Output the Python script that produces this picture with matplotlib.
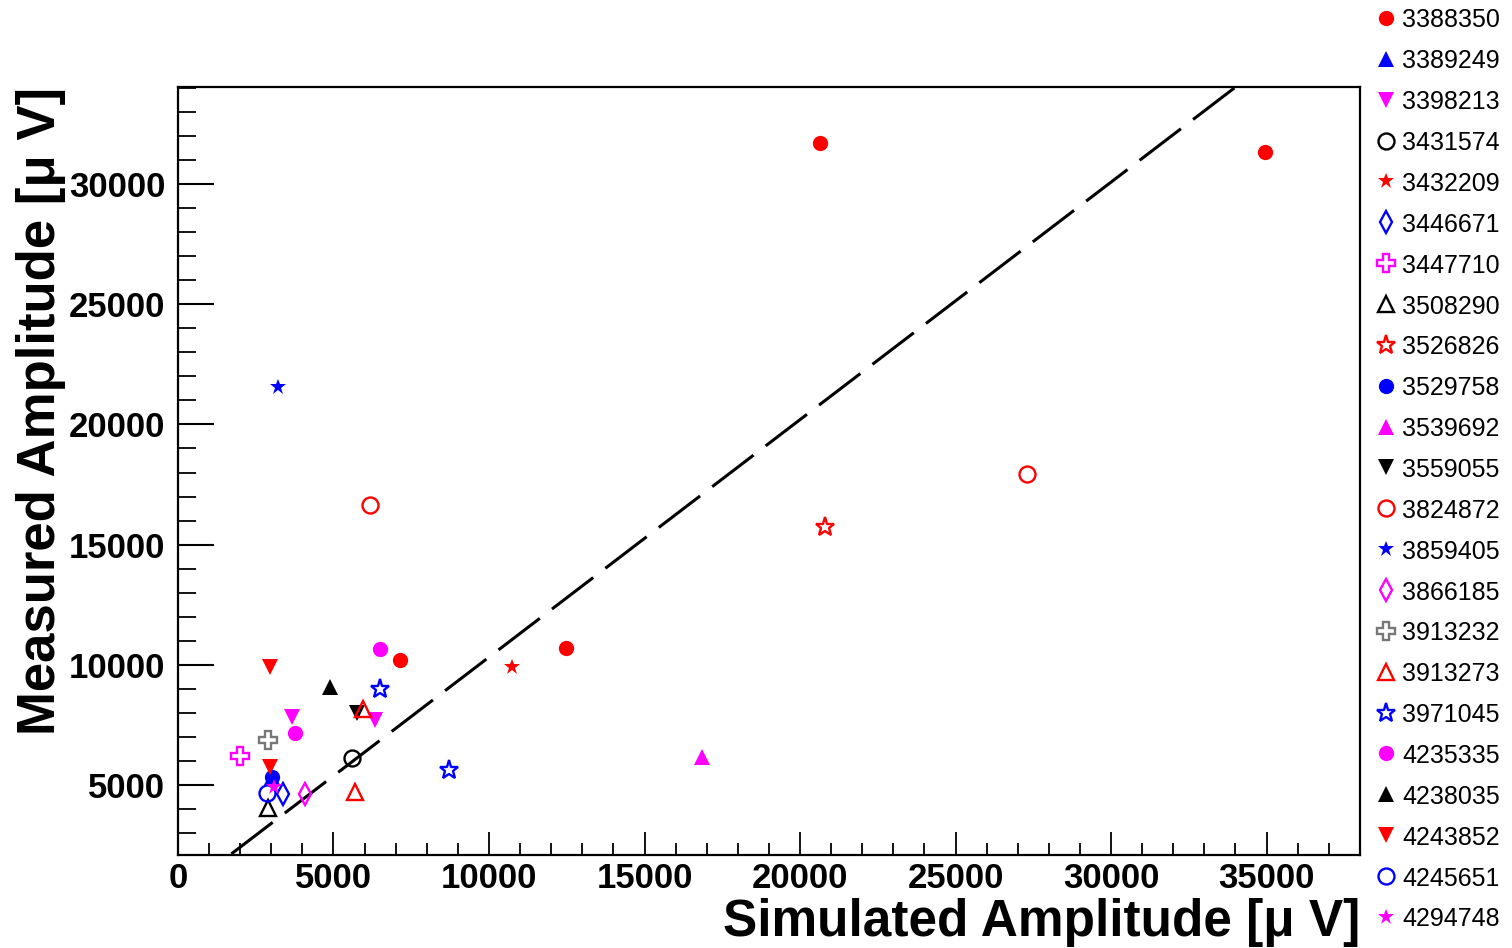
import matplotlib
matplotlib.use('Agg')

import matplotlib.pyplot as plt
from matplotlib.ticker import MultipleLocator

plt.rcParams['font.family'] = ['Liberation Sans', 'DejaVu Sans']

# run numbers (legend order)
runs = ['3388350', '3389249', '3398213', '3431574', '3432209', '3446671',
        '3447710', '3508290', '3526826', '3529758', '3539692', '3559055',
        '3824872', '3859405', '3866185', '3913232', '3913273', '3971045',
        '4235335', '4238035', '4243852', '4245651', '4294748']

# simulated amplitude per run
sim_x = [[20640, 34950, 7140, 12480], [3020], [3670, 6330], [5600], [10740],
         [3380], [1990], [2890], [20800], [3020], [16850], [5760],
         [6170, 27300], [3215], [4080], [2890], [5690, 5950], [6500, 8710],
         [6500, 3760], [4890], [2960, 2960], [2860], [3090]]

# measured amplitude per run
meas_y = [[31710, 31330, 10200, 10700], [5350], [7830, 7700], [6120], [9910],
          [4630], [6210], [4050], [15730], [5330], [6170], [8000],
          [16650, 17940], [21560], [4630], [6870], [4710, 8160], [8990, 5620],
          [10660, 7160], [9080], [9910, 5750], [4670], [4920]]

# reference line: measured = slope * simulated + offset
line_slope = 0.988
line_offset = 440

# marker styles (ROOT-like)
markers = ['o', '^', 'v', 'o', '*', 'd', 'P', '^', '*', 'o', '^', 'v',
           'o', '*', 'd', 'P', '^', '*', 'o', '^', 'v', 'o', '*']
colors = ['#ff0000', '#0000ff', '#ff00ff', '#000000', '#ff0000', '#0000ff',
          '#ff00ff', '#000000', '#ff0000', '#0000ff', '#ff00ff', '#000000',
          '#ff0000', '#0000ff', '#ff00ff', '#777777', '#ff0000', '#0000ff',
          '#ff00ff', '#000000', '#ff0000', '#0000ff', '#ff00ff']
filled = [True, True, True, False, True, False, False, False, False, True,
          True, True, False, True, False, False, False, False, True, True,
          True, False, True]

msizes = {'o': 11, '^': 11, 'v': 11, '*': 12, 'd': 11, 'P': 12}
open_sizes = {'o': 11.5, '^': 11.5, 'd': 11, 'P': 12.5, '*': 14}


def marker_kw(i):
    m = markers[i]
    if filled[i]:
        return dict(marker=m, markersize=msizes[m], color=colors[i],
                    markeredgewidth=0, linestyle='none')
    return dict(marker=m, markersize=open_sizes[m], markerfacecolor='none',
                markeredgecolor=colors[i], markeredgewidth=1.7,
                linestyle='none')


fig = plt.figure(figsize=(15.12, 9.48), dpi=100)
ax = fig.add_axes([0.1177, 0.0981, 0.7817, 0.8101])

xmin, xmax = 0, 38000
ymin, ymax = 2090, 34035

lx = [xmin, xmax]
ly = [line_slope * v + line_offset for v in lx]
ax.plot(lx, ly, color='black', linewidth=2.2, dashes=(17, 5),
        solid_capstyle='butt', dash_capstyle='butt', zorder=1)

for i in range(len(runs)):
    ax.plot(sim_x[i], meas_y[i], zorder=2, **marker_kw(i))

ax.set_xlim(xmin, xmax)
ax.set_ylim(ymin, ymax)

ax.xaxis.set_major_locator(MultipleLocator(5000))
ax.xaxis.set_minor_locator(MultipleLocator(1000))
ax.yaxis.set_major_locator(MultipleLocator(5000))
ax.yaxis.set_minor_locator(MultipleLocator(1000))

ax.tick_params(axis='both', which='both', direction='in', top=False,
               right=False, color='black', labelsize=25)
ax.tick_params(axis='x', which='major', length=16.5, width=1.3, pad=5)
ax.tick_params(axis='x', which='minor', length=8.5, width=1.3)
ax.tick_params(axis='y', which='major', length=26, width=1.5, pad=9)
ax.tick_params(axis='y', which='minor', length=13, width=1.3)
for lab in ax.get_xticklabels() + ax.get_yticklabels():
    lab.set_fontweight('bold')

for sp in ax.spines.values():
    sp.set_linewidth(1.6)

ax.set_xlabel('Simulated Amplitude [μ V]', fontsize=37, fontweight='bold',
              loc='right')
ax.set_ylabel('Measured Amplitude [μ V]', fontsize=38, fontweight='bold',
              loc='top')
ax.xaxis.set_label_coords(1.0, -0.056)
ax.yaxis.set_label_coords(-0.095, 1.0)

# legend column on the right
lax = fig.add_axes([1370 / 1512, 0, 142 / 1512, 1])
lax.set_xlim(0, 142)
lax.set_ylim(22.76, -0.44)
lax.axis('off')
for i, run in enumerate(runs):
    lax.plot([16], [i], **marker_kw(i))
    lax.text(32, i, run, fontsize=18, va='center_baseline', ha='left')

fig.savefig('out.png', dpi=100, facecolor='white')
